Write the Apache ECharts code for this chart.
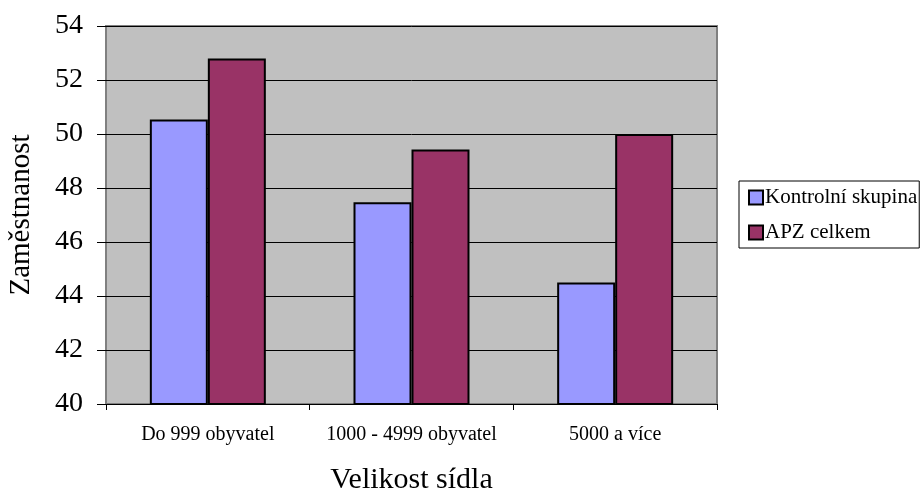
<!DOCTYPE html>
<html>
<head>
<meta charset="utf-8">
<script src="https://cdn.jsdelivr.net/npm/echarts@6/dist/echarts.min.js"></script>
<style>html,body{margin:0;padding:0;background:#fff}#c{width:922px;height:494px}</style>
</head>
<body>
<div id="c"></div>
<script>
const categories = ['Do 999 obyvatel', '1000 - 4999 obyvatel', '5000 a více'];
const kontrolni = [50.54, 47.47, 44.5];
const apz = [52.8, 49.43, 50.0];
const seriesNames = ['Kontrolní skupina', 'APZ celkem'];
const yMin = 40, yMax = 54, yStep = 2;

const font = 'Liberation Serif';
const chart = echarts.init(document.getElementById('c'), null, {renderer: 'canvas'});
chart.setOption({
  animation: false,
  textStyle: {fontFamily: font, color: '#000'},
  grid: {
    left: 106, right: 205, top: 26, bottom: 90,
    containLabel: false, outerBoundsMode: 'none',
    show: true, backgroundColor: '#C0C0C0', borderColor: '#808080', borderWidth: 2
  },
  legend: {
    orient: 'vertical',
    left: 739, top: 181,
    padding: [6, 2, 5, 9],
    itemGap: 14,
    borderColor: '#000', borderWidth: 1,
    backgroundColor: '#fff',
    itemWidth: 14, itemHeight: 14,
    icon: 'rect',
    itemStyle: {borderColor: '#000', borderWidth: 2},
    textStyle: {fontFamily: font, fontSize: 21, color: '#000', padding: [0, 0, 0, -3]},
    data: seriesNames
  },
  xAxis: {
    type: 'category',
    data: categories,
    name: 'Velikost sídla',
    nameLocation: 'middle',
    nameGap: 61,
    nameTextStyle: {fontFamily: font, fontSize: 30, color: '#000'},
    axisLine: {show: true, lineStyle: {color: '#000', width: 1}},
    axisTick: {show: true, interval: 0, length: 6, lineStyle: {color: '#000'}},
    axisLabel: {fontFamily: font, fontSize: 20, color: '#000', margin: 21, interval: 0, hideOverlap: false},
    splitLine: {show: false}
  },
  yAxis: {
    type: 'value',
    min: yMin, max: yMax, interval: yStep,
    name: 'Zaměstnanost',
    nameLocation: 'middle',
    nameGap: 70,
    nameTextStyle: {fontFamily: font, fontSize: 29, color: '#000'},
    axisLine: {show: false},
    axisTick: {show: true, length: 9, lineStyle: {color: '#000'}},
    axisLabel: {fontFamily: font, fontSize: 28, color: '#000', margin: 23},
    splitLine: {show: true, lineStyle: {color: '#000', width: 1}}
  },
  series: [
    {
      name: seriesNames[0], type: 'bar', data: kontrolni,
      barWidth: 58, barGap: '0%',
      itemStyle: {color: '#9999FF', borderColor: '#000', borderWidth: 2}
    },
    {
      name: seriesNames[1], type: 'bar', data: apz,
      barWidth: 58, barGap: '0%',
      itemStyle: {color: '#993366', borderColor: '#000', borderWidth: 2}
    }
  ]
});
</script>
</body>
</html>
